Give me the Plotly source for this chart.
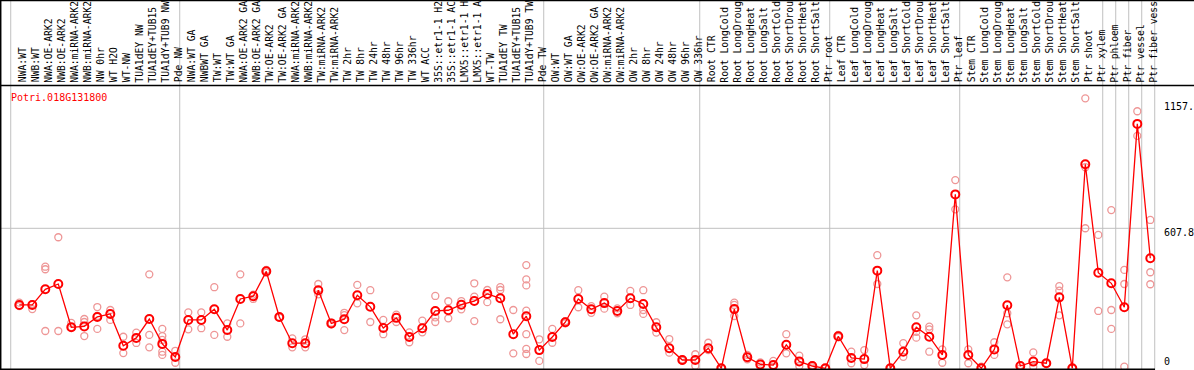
import plotly.graph_objects as go

gene_id = "Potri.018G131800"

labels = [
    "NWA:WT", "NWB:WT", "NWA:OE-ARK2", "NWB:OE-ARK2", "NWA:miRNA-ARK2", "NWB:miRNA-ARK2",
    "NW 0hr", "WT H2O", "WT-NW", "TUA1dEY NW", "TUA1dEY+TUB15", "TUA1dY+TUB9 NW", "Pde NW",
    "NWA:WT GA", "NWBWT GA", "TW:WT", "TW:WT GA", "NWA:OE-ARK2 GA", "NWB:OE-ARK2 GA",
    "TW:OE-ARK2", "TW:OE-ARK2 GA", "NWA:miRNA-ARK2", "NWB:miRNA-ARK2", "TW:miRNA-ARK2",
    "TW:miRNA-ARK2", "TW 2hr", "TW 8hr", "TW 24hr", "TW 48hr", "TW 96hr", "TW 336hr",
    "WT ACC", "35S::etr1-1 H2", "35S::etr1-1 AC", "LMX5::etr1-1 H", "LMX5::etr1-1 A",
    "WT-TW", "TUA1dEY TW", "TUA1dEY+TUB15", "TUA1dY+TUB9 TW", "Pde TW",
    "OW:WT", "OW:WT GA", "OW:OE-ARK2", "OW:OE-ARK2 GA", "OW:miRNA-ARK2", "OW:miRNA-ARK2",
    "OW 2hr", "OW 8hr", "OW 24hr", "OW 48hr", "OW 96hr", "OW 336hr",
    "Root CTR", "Root LongCold", "Root LongDroug", "Root LongHeat", "Root LongSalt",
    "Root ShortCold", "Root ShortDrou", "Root ShortHeat", "Root ShortSalt", "Ptr root",
    "Leaf CTR", "Leaf LongCold", "Leaf LongDroug", "Leaf LongHeat", "Leaf LongSalt",
    "Leaf ShortCold", "Leaf ShortDrou", "Leaf ShortHeat", "Leaf ShortSalt", "Ptr leaf",
    "Stem CTR", "Stem LongCold", "Stem LongDroug", "Stem LongHeat", "Stem LongSalt",
    "Stem ShortCold", "Stem ShortDrou", "Stem ShortHeat", "Stem ShortSalt", "Ptr shoot",
    "Ptr xylem", "Ptr phloem", "Ptr fiber", "Ptr vessel", "Ptr fiber vess",
]

means = [275, 275, 343, 366, 178, 182, 223, 236, 98, 132,
         214, 106, 49, 210, 210, 256, 166, 301, 313, 421,
         223, 109, 109, 339, 195, 213, 317, 267, 175, 219,
         136, 174, 249, 252, 276, 292, 323, 304, 148, 226,
         79, 136, 200, 301, 256, 283, 249, 304, 279, 178,
         87, 36, 36, 87, 0, 257, 48, 17, 14, 102,
         30, 10, 0, 139, 45, 40, 424, 0, 72, 178,
         137, 58, 755, 58, 0, 82, 274, 10, 29, 22,
         308, 0, 886, 415, 369, 265, 1061, 478]

replicates = [
    [285, 270], [279, 257], [441, 430, 162], [569, 162], [197, 179],
    [214, 201, 140], [266, 227, 171], [253, 210], [137, 66], [155, 110],
    [408, 145, 91], [171, 140, 123, 72, 58], [76, 24], [243, 169], [243, 174],
    [352, 145], [195, 137], [408, 195], [301, 320], [427, 415],
    [223, 220], [130, 91], [126, 91], [366, 321], [198, 191],
    [241, 231, 166], [362, 282], [339, 201], [210, 148], [233, 201],
    [156, 113], [207, 156], [314, 221, 201], [291, 217], [292, 256],
    [369, 311, 205], [340, 287], [352, 340, 213], [253, 65], [448, 386, 360, 250, 148, 84, 62],
    [126, 32], [171, 111], [205, 195], [339, 265], [270, 241],
    [311, 259], [260, 239], [336, 275], [339, 253, 236], [200, 155],
    [127, 68], [39, 32], [61, 11], [111, 79], [0, 0],
    [285, 275, 227], [58, 39], [26, 7], [32, 7], [148, 65],
    [55, 10], [14, 4], [0, 0], [145, 135], [72, 22],
    [79, 14], [491, 366], [0, 0], [109, 50], [230, 158, 133],
    [181, 169, 72], [82, 24], [817, 690], [82, 22], [7, 0],
    [113, 58], [395, 239, 191], [14, 0], [69, 7], [22, 20],
    [357, 337, 230], [0, 0], [1172, 873, 608], [579, 249], [687, 253, 171],
    [427, 366, 7], [1116, 1009], [644, 417, 365],
]

group_starts = [0, 13, 41, 53, 63, 73, 84, 85, 86, 87, 88]
grid_value = 607.8
axis_labels = ["1157.", "607.8", "0"]

# ---- layout geometry (pixels) ----
W, H = 1194, 370
x0_px, col_w = 19.3, 13.0
y0_px, px_per_unit = 368.3, 0.23034
xr = [(0 - x0_px) / col_w, (W - x0_px) / col_w]
yr = [(y0_px - H) / px_per_unit, y0_px / px_per_unit]
mono = "DejaVu Sans Mono"

def py(p):  # pixel y -> paper
    return 1 - p / H

def px(p):  # pixel x -> paper
    return p / W

rx, ry = [], []
for i, reps in enumerate(replicates):
    for v in reps:
        rx.append(i)
        ry.append(v)

fig = go.Figure()
fig.add_trace(go.Scatter(
    x=rx, y=ry, mode="markers", hoverinfo="skip",
    marker=dict(symbol="circle-open", size=7, color="rgb(238,150,150)", line=dict(width=1.3)),
))
fig.add_trace(go.Scatter(
    x=list(range(len(means))), y=means, mode="lines+markers",
    line=dict(color="#ff0000", width=1.3),
    marker=dict(symbol="circle-open", size=8, color="#ff0000", line=dict(width=2)),
    text=labels,
))

shapes = []
for k in group_starts:
    xv = k - 0.66
    shapes.append(dict(type="line", xref="x", yref="paper", x0=xv, x1=xv, y0=0, y1=1,
                       line=dict(color="#c0c0c0", width=1), layer="below"))
shapes.append(dict(type="line", xref="paper", yref="y", x0=0, x1=px(1155), y0=grid_value, y1=grid_value,
                   line=dict(color="#c0c0c0", width=1), layer="below"))
# frame lines
shapes.append(dict(type="line", xref="paper", yref="paper", x0=0, x1=1, y0=py(0.5), y1=py(0.5),
                   line=dict(color="black", width=1.5)))
shapes.append(dict(type="line", xref="paper", yref="paper", x0=0, x1=1, y0=py(85.5), y1=py(85.5),
                   line=dict(color="black", width=1.5)))
shapes.append(dict(type="line", xref="paper", yref="paper", x0=px(0.7), x1=px(0.7), y0=0, y1=1,
                   line=dict(color="black", width=1.5)))
shapes.append(dict(type="line", xref="paper", yref="paper", x0=0, x1=px(1155), y0=py(369.3), y1=py(369.3),
                   line=dict(color="black", width=1.5)))

annotations = []
for i, lab in enumerate(labels):
    annotations.append(dict(x=i + 0.22, y=py(83.5), xref="x", yref="paper", text=lab, textangle=-90,
                            showarrow=False, xanchor="center", yanchor="bottom", borderpad=0,
                            font=dict(family=mono, size=9.7, color="black")))
annotations.append(dict(x=px(9), y=py(97.5), xref="paper", yref="paper", text=gene_id,
                        showarrow=False, xanchor="left", yanchor="middle",
                        font=dict(family=mono, size=10, color="#ff0000")))
label_px = [107, 232.3, 361.7]
for t, p in zip(axis_labels, label_px):
    annotations.append(dict(x=px(1162), y=py(p), xref="paper", yref="paper", text=t,
                            showarrow=False, xanchor="left", yanchor="middle",
                            font=dict(family=mono, size=10, color="black")))

fig.update_layout(
    width=W, height=H, margin=dict(l=0, r=0, t=0, b=0),
    paper_bgcolor="white", plot_bgcolor="white", showlegend=False,
    xaxis=dict(range=xr, visible=False, showgrid=False, zeroline=False, fixedrange=True),
    yaxis=dict(range=yr, visible=False, showgrid=False, zeroline=False, fixedrange=True),
    shapes=shapes, annotations=annotations,
)

fig.write_html(
    "out.html",
    config={"displayModeBar": False},
    post_script=("document.body.style.margin='0';"
                 "document.body.style.overflow='hidden';"
                 "document.documentElement.style.overflow='hidden';"),
)
